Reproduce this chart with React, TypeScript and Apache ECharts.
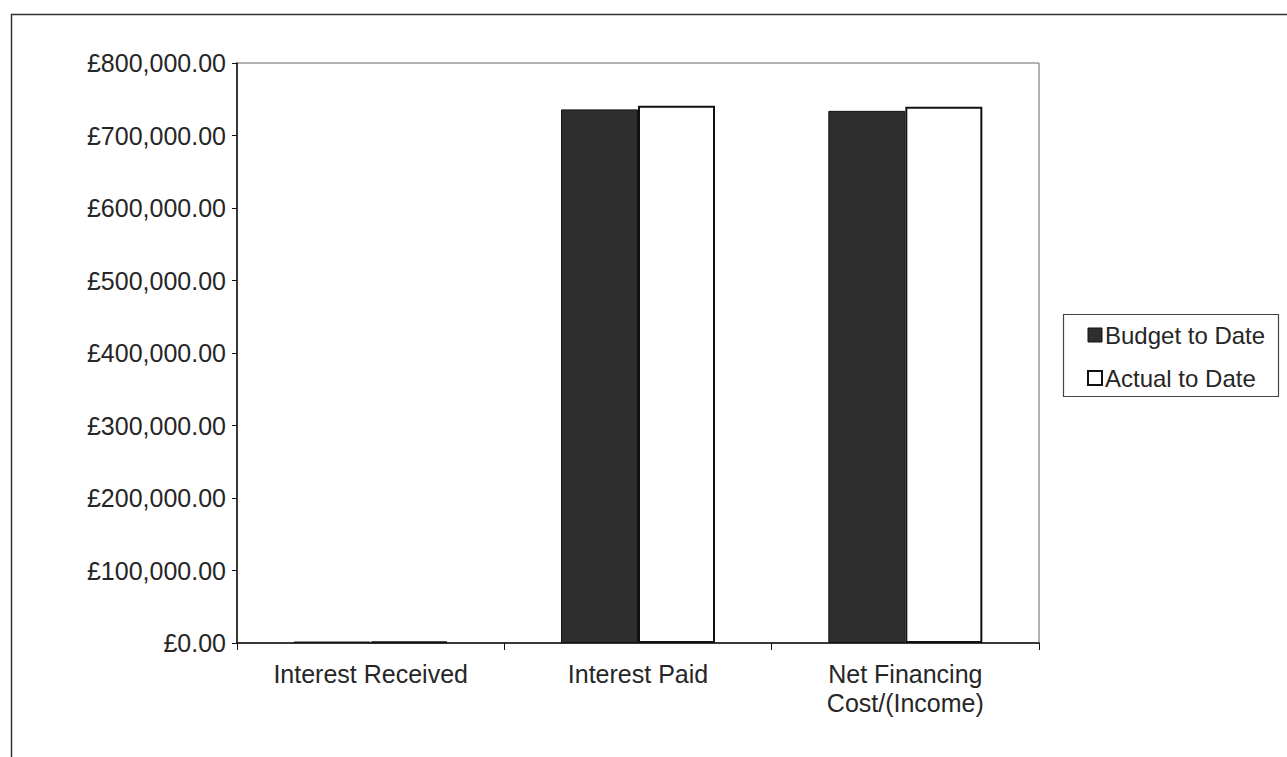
import React, { useEffect, useRef } from "react";
import * as echarts from "echarts";

const categories = ["Interest Received", "Interest Paid", "Net Financing\nCost/(Income)"];
const budgetToDate = [2000, 736000, 734000];
const actualToDate = [1800, 741000, 739500];
const yTicks = { min: 0, max: 800000, interval: 100000 };

const FONT = "'Liberation Sans', Arial, sans-serif";
const TEXT = "#262626";

function fmt(v: number): string {
  return "£" + v.toLocaleString("en-GB", { minimumFractionDigits: 2, maximumFractionDigits: 2 });
}

export default function App() {
  const ref = useRef<HTMLDivElement>(null);
  useEffect(() => {
    if (!ref.current) return;
    const chart = echarts.init(ref.current, undefined, { renderer: "svg" });
    chart.setOption({
      animation: false,
      backgroundColor: "#ffffff",
      graphic: [
        {
          type: "rect",
          shape: { x: 11.5, y: 14.5, width: 1400, height: 900 },
          style: { fill: "none", stroke: "#333", lineWidth: 1.5 },
          silent: true,
          z: 0,
        },
        {
          type: "rect",
          shape: { x: 1063.5, y: 314.5, width: 215, height: 82 },
          style: { fill: "#fff", stroke: "#444", lineWidth: 1.2 },
          silent: true,
          z: 0,
        },
      ],
      grid: {
        left: 237,
        top: 63,
        right: 1287 - 1039,
        bottom: 757 - 643,
        show: true,
        borderColor: "#666",
        borderWidth: 1,
        backgroundColor: "transparent",
      },
      legend: {
        orient: "vertical",
        left: 1087,
        top: 323,
        padding: 0,
        itemWidth: 14,
        itemHeight: 14,
        itemGap: 19,
        textStyle: { fontFamily: FONT, fontSize: 24, color: TEXT, padding: [0, 0, 0, -2] },
        data: [
          { name: "Budget to Date", icon: "rect", itemStyle: { color: "#2e2e2e", borderColor: "#111", borderWidth: 1 } },
          { name: "Actual to Date", icon: "rect", itemStyle: { color: "#fff", borderColor: "#111", borderWidth: 2 } },
        ],
      },
      xAxis: {
        type: "category",
        data: categories,
        axisLine: { show: true, lineStyle: { color: "#111", width: 1.5 } },
        axisTick: { show: true, alignWithLabel: false, length: 7, lineStyle: { color: "#111" } },
        axisLabel: {
          fontFamily: FONT,
          fontSize: 25,
          color: TEXT,
          margin: 16,
          lineHeight: 29,
          interval: 0,
        },
        splitLine: { show: false },
      },
      yAxis: {
        type: "value",
        min: yTicks.min,
        max: yTicks.max,
        interval: yTicks.interval,
        axisLine: { show: true, lineStyle: { color: "#111", width: 1.5 } },
        axisTick: { show: true, length: 5, lineStyle: { color: "#111" } },
        axisLabel: {
          fontFamily: FONT,
          fontSize: 25,
          color: TEXT,
          margin: 11,
          formatter: (v: number) => fmt(v),
        },
        splitLine: { show: false },
      },
      series: [
        {
          name: "Budget to Date",
          type: "bar",
          data: budgetToDate,
          barWidth: 77,
          barGap: "0%",
          itemStyle: { color: "#2e2e2e", borderColor: "#111", borderWidth: 1 },
        },
        {
          name: "Actual to Date",
          type: "bar",
          data: actualToDate,
          barWidth: 77,
          barGap: "0%",
          itemStyle: { color: "#ffffff", borderColor: "#111", borderWidth: 2 },
        },
      ],
    });
    return () => chart.dispose();
  }, []);
  return (
    <div
      ref={ref}
      style={{ position: "fixed", left: 0, top: 0, width: 1287, height: 757, background: "#fff" }}
    />
  );
}
